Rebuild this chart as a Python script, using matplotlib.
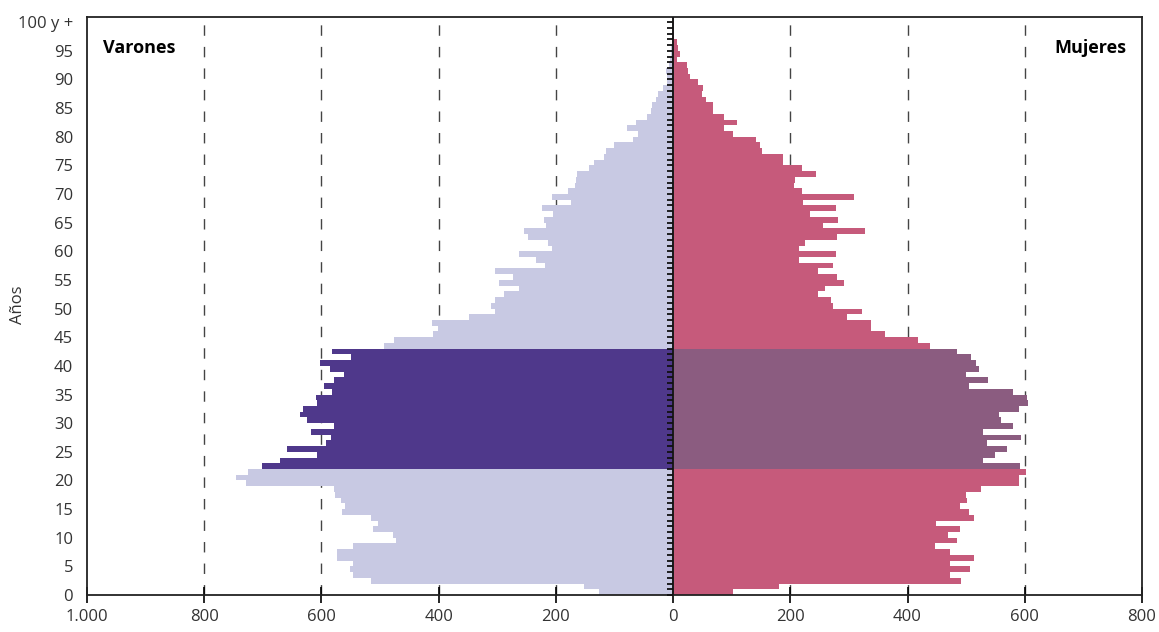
import matplotlib
matplotlib.use("Agg")
import matplotlib.pyplot as plt
import numpy as np

plt.rcParams['font.family'] = ['Open Sans', 'DejaVu Sans']

# edad simple 0..100 (100 = "100 y +")
edades = list(range(101))

varones = [127, 152, 516, 547, 552, 547, 574, 574, 547, 473,
           478, 512, 503, 516, 565, 560, 567, 577, 579, 729,
           745, 726, 702, 671, 607, 659, 593, 584, 618, 579,
           625, 637, 632, 607, 610, 582, 595, 579, 562, 586,
           603, 550, 582, 494, 476, 410, 401, 412, 348, 304,
           311, 304, 289, 263, 297, 273, 304, 219, 234, 263,
           207, 214, 248, 255, 217, 221, 205, 224, 175, 207,
           180, 168, 166, 164, 144, 135, 118, 115, 101, 68,
           60, 79, 64, 44, 37, 36, 30, 26, 17, 11,
           10, 12, 7, 6, 4, 3, 2, 1, 1, 0.5, 0.5]

mujeres = [103, 181, 491, 472, 506, 472, 513, 472, 447, 484,
           469, 489, 449, 513, 505, 490, 501, 500, 525, 590,
           590, 602, 592, 529, 549, 570, 535, 594, 529, 580,
           559, 556, 590, 606, 603, 580, 505, 537, 500, 522,
           517, 509, 484, 439, 417, 362, 338, 338, 297, 323,
           273, 270, 247, 259, 292, 280, 247, 273, 214, 278,
           215, 225, 280, 328, 255, 282, 233, 278, 221, 309,
           220, 207, 208, 244, 220, 187, 188, 152, 148, 142,
           102, 87, 109, 87, 68, 68, 56, 50, 51, 42,
           29, 26, 24, 6, 11, 9, 6, 2, 1, 1, 2]

# tramo destacado
desde, hasta = 22, 42

xticks = [-1000, -800, -600, -400, -200, 0, 200, 400, 600, 800]
xlabels = ["1.000", "800", "600", "400", "200", "0", "200", "400", "600", "800"]
yticks = list(range(0, 101, 5))
ylabels = [str(v) for v in yticks[:-1]] + ["100 y +"]

c_var = "#C8C9E3"
c_var_hl = "#4F388B"
c_muj = "#C65A7B"
c_muj_hl = "#8B5C80"

edades = np.array(edades)
hl = (edades >= desde) & (edades <= hasta)
col_v = [c_var_hl if h else c_var for h in hl]
col_m = [c_muj_hl if h else c_muj for h in hl]

fig = plt.figure(figsize=(11.59, 6.32), dpi=100)
ax = fig.add_axes([87/1159, 1-595/632, (1142-87)/1159, (595-17)/632])

for gx in [-800, -600, -400, -200, 200, 400, 600]:
    ax.axvline(gx, color="#444444", lw=1.0, dashes=(7.5, 8), zorder=0)

ax.barh(edades, -np.array(varones), height=1, align="edge", color=col_v, lw=0, zorder=2)
ax.barh(edades, mujeres, height=1, align="edge", color=col_m, lw=0, zorder=2)

ax.axvline(0, color="#1a1a1a", lw=1.4, zorder=3)
ax.plot(np.zeros(len(edades)), edades, ls="none", marker=[(-1, 0), (0, 0)],
        ms=8, mec="#111111", mew=1.3, zorder=4, clip_on=False)

ax.set_xlim(-1000, 800)
ax.set_ylim(0, 100.9)
ax.set_xticks(xticks)
ax.set_xticklabels(xlabels)
ax.set_yticks(yticks)
ax.set_yticklabels(ylabels)
ax.tick_params(axis="x", direction="inout", length=12, width=1.2, labelsize=12,
               labelcolor="#333333", pad=4)
ax.tick_params(axis="y", length=0, labelsize=12, labelcolor="#333333", pad=10)

for s in ax.spines.values():
    s.set_linewidth(1.3)
    s.set_color("#222222")

fig.text(18/1159, 1-305/632, "Años", fontsize=12, color="#333333",
         rotation=90, ha="center", va="center")

ax.text(-973, 95.5, "Varones", fontsize=13, fontweight="bold", ha="left", va="center")
ax.text(773, 95.5, "Mujeres", fontsize=13, fontweight="bold", ha="right", va="center")

fig.savefig("out.png", dpi=100)
